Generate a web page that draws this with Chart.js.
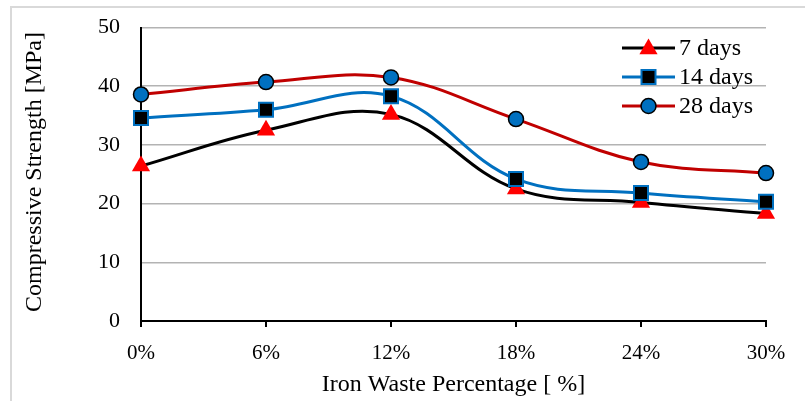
<!DOCTYPE html>
<html>
<head>
<meta charset="utf-8">
<script src="https://cdn.jsdelivr.net/npm/chart.js@4.4.0/dist/chart.umd.min.js"></script>
<style>
  html, body { margin: 0; padding: 0; background: #fff; }
  #wrap { position: relative; width: 805px; height: 401px; }
</style>
</head>
<body>
<div id="wrap"><canvas id="chart"></canvas></div>
<script>
// data
const categories = ["0%", "6%", "12%", "18%", "24%", "30%"];
const days7 = [26.4, 32.5, 35.2, 22.5, 20.2, 18.3];
const days14 = [34.6, 36.0, 38.3, 24.2, 21.8, 20.3];
const days28 = [38.6, 40.7, 41.5, 34.4, 27.1, 25.2];
const seriesNames = ["7 days", "14 days", "28 days"];
const yTicks = [0, 10, 20, 30, 40, 50];
const yTitle = "Compressive Strength [MPa]";
const xTitle = "Iron Waste Percentage [ %]";

const serif = "'Liberation Serif', 'Times New Roman', serif";

// light frame round the chart (top and left only) + the y title
const framePlugin = {
    id: "frame",
    beforeDraw(chart){
        const ctx = chart.ctx;
        ctx.save();
        ctx.strokeStyle = "#d9d9d9";
        ctx.lineWidth = 2;
        ctx.beginPath();
        ctx.moveTo(11, 401);
        ctx.lineTo(11, 7);
        ctx.lineTo(805, 7);
        ctx.stroke();
        ctx.restore();
    },
    afterDraw(chart){
        const ctx = chart.ctx;
        ctx.save();
        ctx.translate(35, 172);
        ctx.rotate(-Math.PI / 2);
        ctx.fillStyle = "#000";
        ctx.font = "24px " + serif;
        ctx.textAlign = "center";
        ctx.textBaseline = "middle";
        ctx.fillText(yTitle, 0, 0);
        ctx.restore();
    }
};

function drawMarker(ctx, style, x, y){
    ctx.beginPath();
    if(style.type == "triangle"){
        const r = 10.5;
        ctx.moveTo(x, y - r);
        ctx.lineTo(x + r * 0.866, y + r / 2);
        ctx.lineTo(x - r * 0.866, y + r / 2);
        ctx.closePath();
    }else if(style.type == "rect"){
        ctx.rect(x - 7, y - 7, 14, 14);
    }else{
        ctx.arc(x, y, 7.5, 0, Math.PI * 2);
    }
    ctx.fillStyle = style.fill;
    ctx.fill();
    if(style.stroke){
        ctx.strokeStyle = style.stroke;
        ctx.lineWidth = style.strokeWidth;
        ctx.stroke();
    }
}

// legend inside the plot, line + marker + name
const legendPlugin = {
    id: "innerLegend",
    afterDraw(chart){
        const ctx = chart.ctx;
        const styles = [
            {line: "#000000", type: "triangle", fill: "#ff0000"},
            {line: "#0070c0", type: "rect", fill: "#000000", stroke: "#0070c0", strokeWidth: 2},
            {line: "#c00000", type: "circle", fill: "#0070c0", stroke: "#000000", strokeWidth: 1.5}
        ];
        ctx.save();
        for(let i = 0; i < seriesNames.length; i++){
            const y = 48 + i * 29;
            ctx.strokeStyle = styles[i].line;
            ctx.lineWidth = 3;
            ctx.beginPath();
            ctx.moveTo(622, y);
            ctx.lineTo(675, y);
            ctx.stroke();
            drawMarker(ctx, styles[i], 648.5, i == 0 ? y + 1 : y);
            ctx.fillStyle = "#000";
            ctx.font = "24px " + serif;
            ctx.textBaseline = "middle";
            ctx.textAlign = "left";
            ctx.fillText(seriesNames[i], 679, y + 1);
        }
        ctx.restore();
    }
};

new Chart(document.getElementById("chart"), {
    type: "line",
    data: {
        labels: categories,
        datasets: [{
            label: seriesNames[0],
            data: days7,
            borderColor: "#000000",
            borderWidth: 3,
            pointStyle: "triangle",
            pointRadius: 10.5,
            pointBackgroundColor: "#ff0000",
            pointBorderColor: "#ff0000",
            pointBorderWidth: 0,
            order: 2
        }, {
            label: seriesNames[1],
            data: days14,
            borderColor: "#0070c0",
            borderWidth: 3,
            pointStyle: "rect",
            pointRadius: 9.9,
            pointBackgroundColor: "#000000",
            pointBorderColor: "#0070c0",
            pointBorderWidth: 2,
            order: 1
        }, {
            label: seriesNames[2],
            data: days28,
            borderColor: "#c00000",
            borderWidth: 3,
            pointStyle: "circle",
            pointRadius: 7.5,
            pointBackgroundColor: "#0070c0",
            pointBorderColor: "#000000",
            pointBorderWidth: 1.5,
            order: 0
        }]
    },
    options: {
        responsive: true,
        maintainAspectRatio: false,
        animation: false,
        clip: false,
        layout: {padding: {left: 0, right: 39, top: 27.5, bottom: 0}},
        plugins: {legend: {display: false}, tooltip: {enabled: false}},
        elements: {line: {tension: 0.38}},
        scales: {
            x: {
                type: "category",
                offset: false,
                grid: {display: true, drawOnChartArea: false, drawTicks: true, tickLength: 6, color: "#000", lineWidth: 2, offset: false},
                border: {color: "#000", width: 2},
                ticks: {color: "#000", font: {family: serif, size: 21}, padding: 14, maxRotation: 0},
                title: {display: true, text: xTitle, color: "#000", font: {family: serif, size: 24}, padding: {top: 0, bottom: 2}},
                afterFit(scale){ scale.height = 80; }
            },
            y: {
                min: 0,
                max: 50,
                afterBuildTicks(scale){ scale.ticks = yTicks.map(v => ({value: v})); },
                // tick padding also pads the top of the plot, so the label gap comes from invisible tick marks
                grid: {color: "#b3b3b3", lineWidth: 1.5, drawTicks: true, tickLength: 21, tickColor: "rgba(0,0,0,0)"},
                border: {color: "#000", width: 2},
                ticks: {color: "#000", font: {family: serif, size: 22}, padding: 0},
                title: {display: false},
                afterFit(scale){ scale.width = 141; }
            }
        }
    },
    plugins: [framePlugin, legendPlugin]
});
</script>
</body>
</html>
